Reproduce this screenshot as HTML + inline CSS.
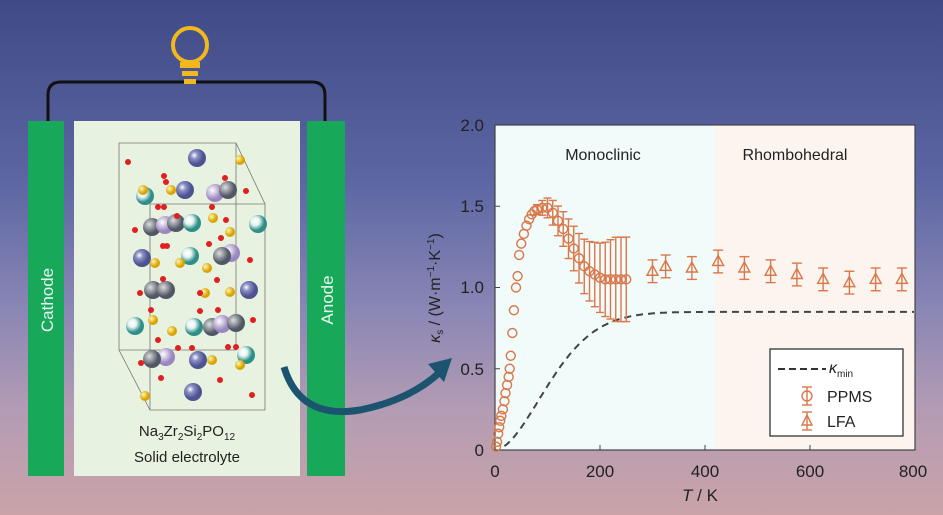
<!DOCTYPE html>
<html><head><meta charset="utf-8"><style>
html,body{margin:0;padding:0;}
body{width:943px;height:515px;overflow:hidden;background:linear-gradient(180deg,#3f4a86 0%,#5b66a3 35%,#8a86b5 60%,#b49cb4 80%,#caa3a8 100%);font-family:"Liberation Sans",sans-serif;}
</style></head><body>
<svg id="s" width="943" height="515" xmlns="http://www.w3.org/2000/svg" style="position:absolute;left:0;top:0">
<defs>
<radialGradient id="gb" cx="35%" cy="35%"><stop offset="0" stop-color="#fff"/><stop offset="0.4" stop-color="#8a8fc4"/><stop offset="1" stop-color="#4d5290"/></radialGradient>
<radialGradient id="gt" cx="35%" cy="35%"><stop offset="0" stop-color="#fff"/><stop offset="0.45" stop-color="#e8f4f2"/><stop offset="1" stop-color="#2e8f88"/></radialGradient>
<radialGradient id="gl" cx="35%" cy="35%"><stop offset="0" stop-color="#fff"/><stop offset="1" stop-color="#9b86c0"/></radialGradient>
<radialGradient id="gg" cx="35%" cy="35%"><stop offset="0" stop-color="#ddd"/><stop offset="1" stop-color="#505866"/></radialGradient>
<radialGradient id="gy" cx="35%" cy="35%"><stop offset="0" stop-color="#fff6b0"/><stop offset="1" stop-color="#d9a200"/></radialGradient>
</defs>
<path d="M48 121 V95 Q48 82 61 82 H312 Q325 82 325 95 V121" fill="none" stroke="#111" stroke-width="3"/>
<circle cx="190" cy="45" r="17" fill="none" stroke="#f2b81c" stroke-width="4"/>
<rect x="180" y="62" width="20" height="6" fill="#f2b81c"/><rect x="182" y="71" width="16" height="5" fill="#f2b81c"/><rect x="184" y="79" width="12" height="5" fill="#f2b81c"/>
<rect x="28" y="121" width="36" height="355" fill="#17a85a"/>
<rect x="307" y="121" width="38" height="355" fill="#17a85a"/>
<rect x="74" y="121" width="226" height="355" fill="#e8f2e0"/>
<text transform="translate(53,300) rotate(-90)" text-anchor="middle" font-size="17" fill="#eaf7ee">Cathode</text>
<text transform="translate(333,300) rotate(-90)" text-anchor="middle" font-size="17" fill="#eaf7ee">Anode</text>
<g fill="none" stroke="#777" stroke-width="0.8">
<path d="M119 143 H236 L265 204 V410 H150 L119 350 Z M150 204 H265 M150 204 V410 M236 143 V350 H119"/>
</g>
<g id="atoms"></g>
<text x="187" y="436" text-anchor="middle" font-size="15" fill="#222">Na<tspan font-size="10" dy="4">3</tspan><tspan dy="-4">Zr</tspan><tspan font-size="10" dy="4">2</tspan><tspan dy="-4">Si</tspan><tspan font-size="10" dy="4">2</tspan><tspan dy="-4">PO</tspan><tspan font-size="10" dy="4">12</tspan></text>
<text x="187" y="462" text-anchor="middle" font-size="15" fill="#222">Solid electrolyte</text>
<path d="M284 367 Q300 420 360 410 Q410 400 440 372" fill="none" stroke="#1c5470" stroke-width="7"/>
<path d="M428 364 L452 358 L444 382 Z" fill="#1c5470"/>
<rect x="495" y="125" width="220" height="325" fill="#f1fbfa"/>
<rect x="715" y="125" width="200" height="325" fill="#fcf5ef"/>
<rect x="495" y="125" width="420" height="325" fill="none" stroke="#444" stroke-width="1.2"/>
<g id="ticks" stroke="#444" stroke-width="1"></g>
<g font-size="17" fill="#222" text-anchor="end">
<text x="484" y="131">2.0</text><text x="484" y="212">1.5</text><text x="484" y="293">1.0</text><text x="484" y="375">0.5</text><text x="484" y="456">0</text>
</g>
<g font-size="17" fill="#222" text-anchor="middle">
<text x="495" y="477">0</text><text x="600" y="477">200</text><text x="705" y="477">400</text><text x="810" y="477">600</text><text x="913" y="477">800</text>
<text x="700" y="501"><tspan font-style="italic">T</tspan> / K</text>
<text x="603" y="160" font-size="16">Monoclinic</text>
<text x="795" y="160" font-size="16">Rhombohedral</text>
</g>
<text transform="translate(440,288) rotate(-90)" text-anchor="middle" font-size="16" fill="#222"><tspan font-style="italic">κ</tspan><tspan font-size="10" dy="3">s</tspan><tspan dy="-3"> / (W·m</tspan><tspan font-size="10" dy="-6">−1</tspan><tspan dy="6">·K</tspan><tspan font-size="10" dy="-6">−1</tspan><tspan dy="6">)</tspan></text>
<path id="kmin" fill="none" stroke="#444" stroke-width="2" stroke-dasharray="7,5"/>
<g id="data" fill="none" stroke="#d9784a" stroke-width="1.4"></g>
<rect x="770" y="349" width="133" height="87" fill="#fff" stroke="#333" stroke-width="1.3"/>
<line x1="778" y1="369" x2="826" y2="369" stroke="#333" stroke-width="2" stroke-dasharray="7,4"/>
<text x="829" y="373" font-size="16" font-style="italic" fill="#222">κ<tspan font-size="10" font-style="normal" dy="4">min</tspan></text>
<g stroke="#d9784a" fill="none" stroke-width="1.4">
<line x1="807" y1="387" x2="807" y2="405"/><line x1="802" y1="387" x2="812" y2="387"/><line x1="802" y1="405" x2="812" y2="405"/><circle cx="807" cy="396" r="5"/>
<line x1="807" y1="412" x2="807" y2="430"/><line x1="802" y1="412" x2="812" y2="412"/><line x1="802" y1="430" x2="812" y2="430"/><path d="M807 415 L812 425 L802 425 Z"/>
</g>
<text x="827" y="402" font-size="16" fill="#222">PPMS</text>
<text x="827" y="427" font-size="16" fill="#222">LFA</text>
</svg>
<script>
const NS="http://www.w3.org/2000/svg";
function el(p,t,a){const e=document.createElementNS(NS,t);for(const k in a)e.setAttribute(k,a[k]);p.appendChild(e);return e;}
const X=T=>495+T*0.525, Y=k=>450-k*162.5;
const tk=document.getElementById('ticks');
[0,200,400,600,800].forEach(T=>el(tk,'line',{x1:X(T),x2:X(T),y1:450,y2:445}));
[0,0.5,1,1.5,2].forEach(k=>el(tk,'line',{x1:495,x2:500,y1:Y(k),y2:Y(k)}));
let d="";for(let T=18;T<=800;T+=4){const k=0.85*(1-Math.exp(-Math.pow(T/130,1.8)));d+=(d?"L":"M")+X(T).toFixed(1)+" "+Y(k).toFixed(1);}
document.getElementById('kmin').setAttribute('d',d);
const g=document.getElementById('data');
const P=[[2,0.02],[4,0.05],[6,0.1],[8,0.14],[10,0.18],[12,0.21],[15,0.25],[18,0.3],[20,0.35],[23,0.4],[26,0.45],[28,0.5],[30,0.58],[33,0.72],[36,0.86],[40,1.0],[43,1.07],[46,1.2],[50,1.27],[55,1.33],[60,1.38],[65,1.42],[70,1.45],[75,1.47],[80,1.48],[90,1.49],[100,1.49],[110,1.46],[120,1.41],[130,1.36],[140,1.3],[150,1.24],[160,1.18],[170,1.13],[180,1.1],[190,1.08],[200,1.06],[210,1.05],[220,1.05],[230,1.05],[240,1.05],[250,1.05]];
P.forEach(([T,k])=>{const e=T<80?0:Math.min(0.26,(T-80)/170*0.26+0.03);const x=X(T);
if(e>0){el(g,'line',{x1:x,x2:x,y1:Y(k+e),y2:Y(k-e)});el(g,'line',{x1:x-4,x2:x+4,y1:Y(k+e),y2:Y(k+e)});el(g,'line',{x1:x-4,x2:x+4,y1:Y(k-e),y2:Y(k-e)});}
el(g,'circle',{cx:x,cy:Y(k),r:4.5});});
[[300,1.1],[325,1.13],[375,1.12],[425,1.16],[475,1.12],[525,1.1],[575,1.08],[625,1.05],[675,1.03],[725,1.05],[775,1.05]].forEach(([T,k])=>{const x=X(T),e=0.07;
el(g,'line',{x1:x,x2:x,y1:Y(k+e),y2:Y(k-e)});el(g,'line',{x1:x-5,x2:x+5,y1:Y(k+e),y2:Y(k+e)});el(g,'line',{x1:x-5,x2:x+5,y1:Y(k-e),y2:Y(k-e)});
const y=Y(k);el(g,'path',{d:`M${x} ${y-6} L${x+5.5} ${y+4} L${x-5.5} ${y+4} Z`});});
const A=document.getElementById('atoms');
const big=[[197,158,'gb'],[145,196,'gt'],[185,190,'gb'],[215,193,'gl'],[228,190,'gg'],[152,227,'gg'],[165,225,'gl'],[176,223,'gg'],[192,223,'gt'],[258,224,'gt'],[142,258,'gb'],[190,256,'gt'],[231,253,'gl'],[222,256,'gg'],[153,290,'gg'],[166,290,'gg'],[249,290,'gb'],[135,326,'gt'],[194,327,'gt'],[212,327,'gg'],[222,324,'gl'],[236,323,'gg'],[166,357,'gl'],[152,359,'gg'],[198,360,'gb'],[246,355,'gt'],[193,392,'gb']];
big.forEach(([x,y,f])=>el(A,'circle',{cx:x,cy:y,r:9,fill:`url(#${f})`}));
const y=[[240,160],[143,190],[171,190],[213,218],[230,232],[155,263],[180,263],[207,268],[230,292],[205,293],[153,320],[172,331],[212,360],[240,365],[145,396]];
y.forEach(([a,b])=>el(A,'circle',{cx:a,cy:b,r:5,fill:'url(#gy)'}));
const r=[[128,162],[164,176],[166,182],[225,178],[246,191],[158,207],[164,207],[177,216],[212,207],[226,220],[135,230],[221,238],[163,246],[167,246],[250,260],[209,244],[140,293],[163,279],[200,293],[217,280],[218,310],[200,311],[151,310],[253,320],[158,340],[178,348],[228,347],[236,347],[141,363],[192,348],[220,380],[161,378],[252,395]];
r.forEach(([a,b])=>el(A,'circle',{cx:a,cy:b,r:3,fill:'#e02020'}));
</script>
</body></html>
